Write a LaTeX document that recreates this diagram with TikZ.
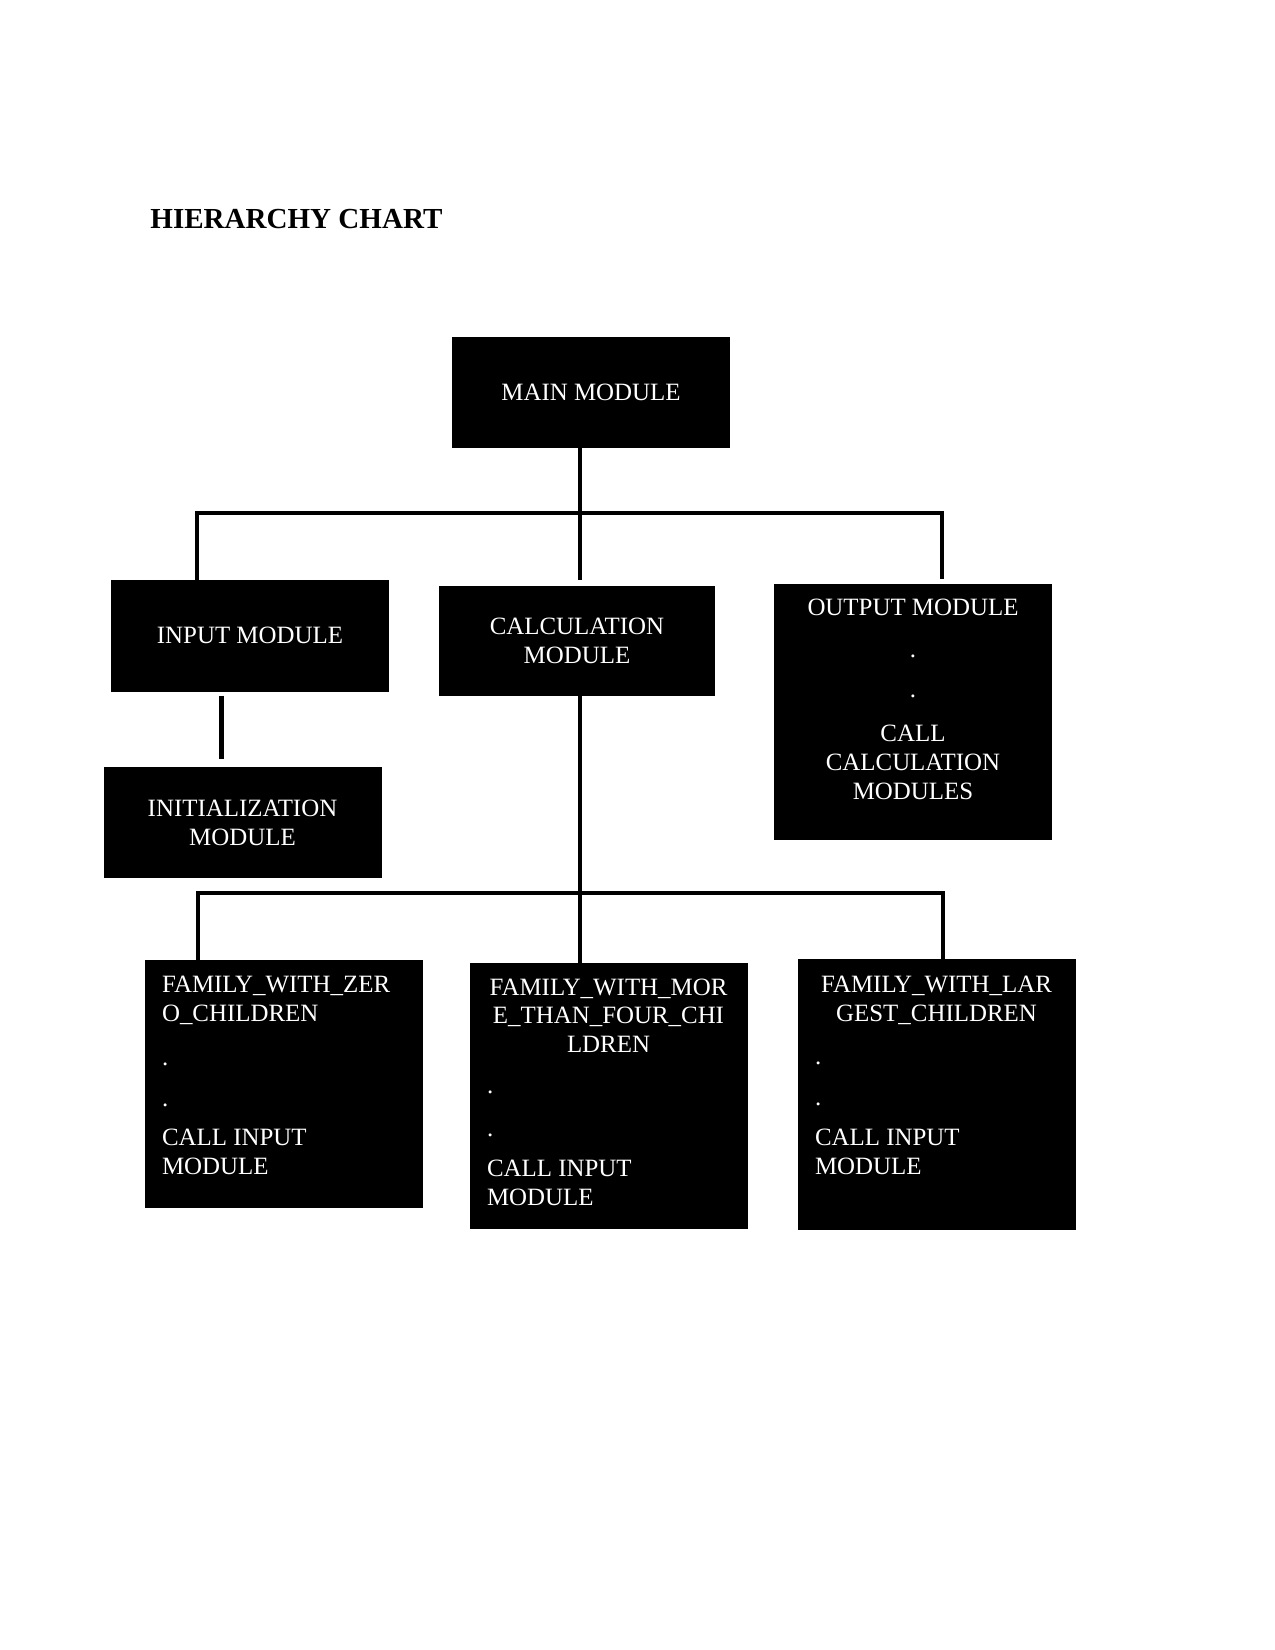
\documentclass[tikz,border=0pt]{standalone}
\usepackage{fontspec}
\setmainfont{Liberation Serif}
\usetikzlibrary{positioning,calc}
\tikzset{
  module/.style={rectangle, draw=black, fill=black, text=white,
    minimum width=4.7cm, minimum height=1.86cm, inner sep=0pt,
    font=\fontsize{12}{13.9}\selectfont, align=center},
  modtext/.style={text=white, inner sep=0pt, font=\fontsize{12}{13.9}\selectfont},
  link/.style={line width=1.9pt},
  stub/.style={line width=2.4pt},
}
\begin{document}
\begin{tikzpicture}

% Page
\useasboundingbox (0,0) rectangle (21.59,-27.94);

% Title
\node[font=\bfseries\fontsize{14}{16}\selectfont, anchor=base west, inner sep=0pt] (title) at (2.54,-3.861) {HIERARCHY CHART};

% Upper level
\node[module] (main) at (10.007,-6.638) {MAIN MODULE};
\node[module, minimum height=1.88cm] (input) at (4.233,-10.761) {INPUT MODULE};
\node[module, minimum width=4.67cm] (calc) at (9.770,-10.854) {CALCULATION\\MODULE};
\node[module, minimum height=4.32cm] (output) at (15.460,-12.048) {};
\node[modtext, align=center, anchor=north] (output-txt) at ([yshift=-0.262cm]output.north) {OUTPUT MODULE\\[6.3pt] .\\[5.3pt] .\\[7.2pt] CALL\\CALCULATION\\MODULES};
\node[module, minimum width=4.69cm, minimum height=1.85cm] (init) at (4.106,-13.927) {INITIALIZATION\\MODULE};

% Lower level
\node[module, minimum width=4.69cm, minimum height=4.18cm] (zero) at (4.801,-18.347) {};
\node[module, minimum width=4.69cm, minimum height=4.50cm] (more) at (10.304,-18.559) {};
\node[module, minimum width=4.69cm, minimum height=4.56cm] (largest) at (15.858,-18.533) {};

\node[modtext, align=left, anchor=north west] (zero-name) at ([shift={(0.288,-0.279)}]zero.north west) {FAMILY\_WITH\_ZER\\O\_CHILDREN};
\node[modtext, align=left, anchor=north west] (zero-call) at ([shift={(0.288,-1.5)}]zero.north west) {\vphantom{C}.\\[5.8pt] .\\[5.2pt] CALL INPUT\\MODULE};

\node[modtext, align=center, anchor=north] (more-name) at ([yshift=-0.262cm]more.north) {FAMILY\_WITH\_MOR\\E\_THAN\_FOUR\_CHI\\LDREN};
\node[modtext, align=left, anchor=north west] (more-call) at ([shift={(0.288,-1.927)}]more.north west) {\vphantom{C}.\\[6.7pt] .\\[5.7pt] CALL INPUT\\MODULE};

\node[modtext, align=center, anchor=north] (largest-name) at ([yshift=-0.279cm]largest.north) {FAMILY\_WITH\_LAR\\GEST\_CHILDREN};
\node[modtext, align=left, anchor=north west] (largest-call) at ([shift={(0.288,-1.5)}]largest.north west) {\vphantom{C}.\\[5.8pt] .\\[5.2pt] CALL INPUT\\MODULE};

% Bus points
\coordinate (b1l) at (3.336,-8.687);
\coordinate (b1m) at (9.821,-8.687);
\coordinate (b1r) at (15.951,-8.687);
\coordinate (b2l) at (3.353,-15.121);
\coordinate (b2m) at (9.821,-15.121);
\coordinate (b2r) at (15.968,-15.121);

% Connectors
\draw[link] (main.south -| b1m) -- (b1m);
\draw[link, shorten >=0.08cm] (input.north -| b1l) -- (b1l) -- (b1r) -- (b1r |- output.north);
\draw[link, shorten >=0.1cm] (b1m) -- (b1m |- calc.north);
\draw[stub, shorten <=0.07cm, shorten >=0.135cm] ([xshift=-0.49cm]input.south) -- ([xshift=-0.49cm]input.south |- init.north);
\draw[link] (calc.south -| b2m) -- (b2m);
\draw[link] (zero.north -| b2l) -- (b2l) -- (b2r) -- (largest.north -| b2r);
\draw[link] (b2m) -- (more.north -| b2m);

\end{tikzpicture}
\end{document}
